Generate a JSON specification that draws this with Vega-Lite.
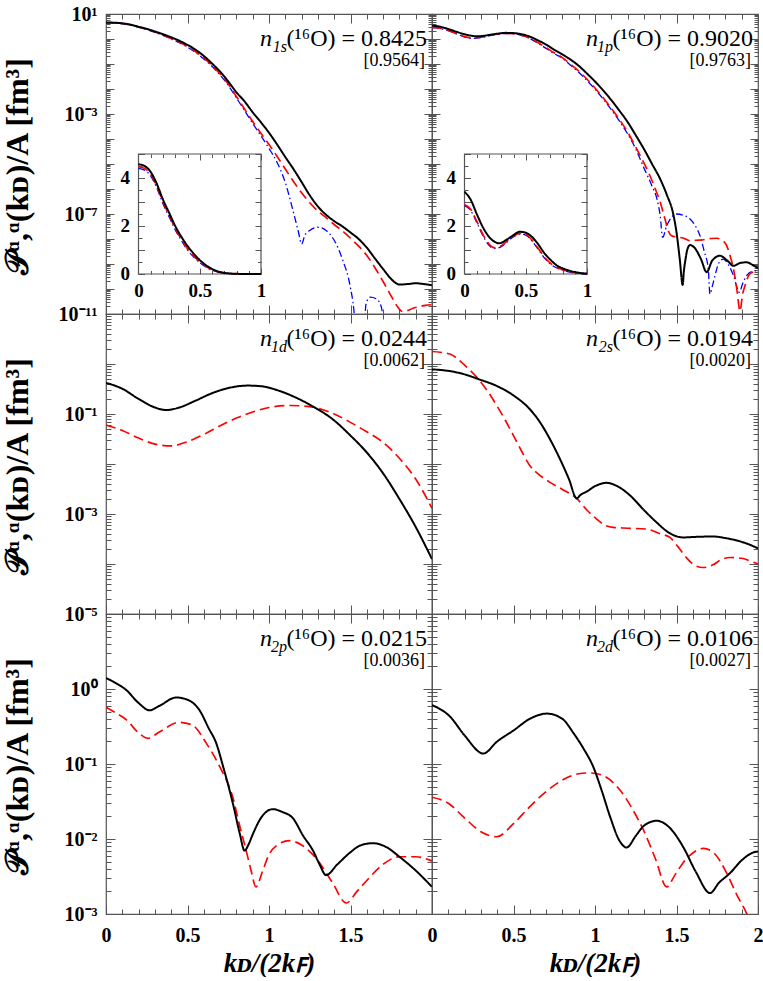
{
"$schema": "https://vega.github.io/schema/vega-lite/v6.json",
"background": "white",
"padding": {"left": 0, "top": 3, "right": 0, "bottom": 0},
"columns": 2,
"spacing": 0,
"bounds": "flush",
"config": {
 "view": {"stroke": "#555555", "strokeWidth": 1.2},
 "axis": {"domain": false, "grid": false, "tickColor": "#555555", "tickWidth": 1, "labelFont": "Liberation Serif", "labelFontWeight": "bold", "labelFontSize": 20, "labelColor": "#000000", "labelOverlap": false, "labelFlush": false, "labelBound": false, "titleFont": "Liberation Serif", "titleFontWeight": "bold", "titleFontSize": 28, "titleColor": "#000000"},
 "text": {"font": "Liberation Serif", "color": "#000000"}
},
"datasets": {
 "t1s": [{"sub": "1s", "main": "(¹⁶O) = 0.8425", "br": "[0.9564]"}],
 "t1p": [{"sub": "1p", "main": "(¹⁶O) = 0.9020", "br": "[0.9763]"}],
 "t1d": [{"sub": "1d", "main": "(¹⁶O) = 0.0244", "br": "[0.0062]"}],
 "t2s": [{"sub": "2s", "main": "(¹⁶O) = 0.0194", "br": "[0.0020]"}],
 "t2p": [{"sub": "2p", "main": "(¹⁶O) = 0.0215", "br": "[0.0036]"}],
 "t2d": [{"sub": "2d", "main": "(¹⁶O) = 0.0106", "br": "[0.0027]"}],
 "p1s": [
  {"k":0,"v":4.4,"c":"b"},{"k":0.05,"v":4.33,"c":"b"},{"k":0.1,"v":4.08,"c":"b"},{"k":0.15,"v":3.58,"c":"b"},{"k":0.2,"v":2.93,"c":"b"},{"k":0.25,"v":2.38,"c":"b"},{"k":0.3,"v":1.84,"c":"b"},{"k":0.35,"v":1.4,"c":"b"},{"k":0.4,"v":1.0,"c":"b"},{"k":0.45,"v":0.71,"c":"b"},{"k":0.5,"v":0.47,"c":"b"},{"k":0.55,"v":0.29,"c":"b"},{"k":0.6,"v":0.16,"c":"b"},{"k":0.65,"v":0.081,"c":"b"},{"k":0.7,"v":0.036,"c":"b"},{"k":0.75,"v":0.014,"c":"b"},{"k":0.8,"v":0.0044,"c":"b"},{"k":0.85,"v":0.00138,"c":"b"},{"k":0.9,"v":0.00042,"c":"b"},{"k":0.95,"v":0.000135,"c":"b"},{"k":1.0,"v":0.000042,"c":"b"},{"k":1.05,"v":0.0000115,"c":"b"},{"k":1.1,"v":0.0000018,"c":"b"},{"k":1.15,"v":1.17e-7,"c":"b"},{"k":1.18,"v":2.0e-8,"c":"b"},{"k":1.2,"v":6.3e-9,"c":"b"},{"k":1.22,"v":1.4e-8,"c":"b"},{"k":1.25,"v":2.2e-8,"c":"b"},{"k":1.3,"v":2.95e-8,"c":"b"},{"k":1.35,"v":2.2e-8,"c":"b"},{"k":1.4,"v":8.9e-9,"c":"b"},{"k":1.45,"v":1.58e-9,"c":"b"},{"k":1.5,"v":1.1e-10,"c":"b"},{"k":1.52,"v":1.6e-11,"c":"b"},{"k":1.545,"v":1e-13,"c":"b"},{"k":1.575,"v":1e-13,"c":"b"},{"k":1.595,"v":2.5e-11,"c":"b"},{"k":1.62,"v":4.7e-11,"c":"b"},{"k":1.66,"v":4.0e-11,"c":"b"},{"k":1.69,"v":1.8e-11,"c":"b"},{"k":1.715,"v":1e-13,"c":"b"},
  {"k":0,"v":4.47,"c":"r"},{"k":0.05,"v":4.4,"c":"r"},{"k":0.1,"v":4.15,"c":"r"},{"k":0.15,"v":3.65,"c":"r"},{"k":0.2,"v":3.0,"c":"r"},{"k":0.25,"v":2.45,"c":"r"},{"k":0.3,"v":1.9,"c":"r"},{"k":0.35,"v":1.45,"c":"r"},{"k":0.4,"v":1.05,"c":"r"},{"k":0.45,"v":0.75,"c":"r"},{"k":0.5,"v":0.5,"c":"r"},{"k":0.55,"v":0.31,"c":"r"},{"k":0.6,"v":0.174,"c":"r"},{"k":0.65,"v":0.089,"c":"r"},{"k":0.7,"v":0.04,"c":"r"},{"k":0.75,"v":0.0158,"c":"r"},{"k":0.8,"v":0.005,"c":"r"},{"k":0.85,"v":0.00158,"c":"r"},{"k":0.9,"v":0.0005,"c":"r"},{"k":0.95,"v":0.00017,"c":"r"},{"k":1.0,"v":0.00006,"c":"r"},{"k":1.05,"v":0.00002,"c":"r"},{"k":1.1,"v":6.3e-6,"c":"r"},{"k":1.15,"v":2.0e-6,"c":"r"},{"k":1.2,"v":7.1e-7,"c":"r"},{"k":1.25,"v":2.8e-7,"c":"r"},{"k":1.3,"v":1.32e-7,"c":"r"},{"k":1.35,"v":7.1e-8,"c":"r"},{"k":1.4,"v":3.8e-8,"c":"r"},{"k":1.45,"v":2.1e-8,"c":"r"},{"k":1.5,"v":1.07e-8,"c":"r"},{"k":1.55,"v":5.2e-9,"c":"r"},{"k":1.6,"v":2.2e-9,"c":"r"},{"k":1.65,"v":7.1e-10,"c":"r"},{"k":1.7,"v":2.0e-10,"c":"r"},{"k":1.73,"v":8.9e-11,"c":"r"},{"k":1.76,"v":4.0e-11,"c":"r"},{"k":1.79,"v":1.9e-11,"c":"r"},{"k":1.82,"v":1.26e-11,"c":"r"},{"k":1.85,"v":1.38e-11,"c":"r"},{"k":1.88,"v":1.66e-11,"c":"r"},{"k":1.92,"v":1.95e-11,"c":"r"},{"k":1.96,"v":2.2e-11,"c":"r"},{"k":2.0,"v":2.35e-11,"c":"r"},
  {"k":0,"v":4.57,"c":"k"},{"k":0.05,"v":4.5,"c":"k"},{"k":0.1,"v":4.25,"c":"k"},{"k":0.15,"v":3.75,"c":"k"},{"k":0.2,"v":3.1,"c":"k"},{"k":0.25,"v":2.55,"c":"k"},{"k":0.3,"v":2.0,"c":"k"},{"k":0.35,"v":1.55,"c":"k"},{"k":0.4,"v":1.17,"c":"k"},{"k":0.45,"v":0.85,"c":"k"},{"k":0.5,"v":0.58,"c":"k"},{"k":0.55,"v":0.37,"c":"k"},{"k":0.6,"v":0.21,"c":"k"},{"k":0.65,"v":0.105,"c":"k"},{"k":0.7,"v":0.05,"c":"k"},{"k":0.75,"v":0.02,"c":"k"},{"k":0.8,"v":0.0074,"c":"k"},{"k":0.85,"v":0.0032,"c":"k"},{"k":0.9,"v":0.00117,"c":"k"},{"k":0.95,"v":0.00047,"c":"k"},{"k":1.0,"v":0.000178,"c":"k"},{"k":1.05,"v":0.00006,"c":"k"},{"k":1.1,"v":0.000019,"c":"k"},{"k":1.15,"v":6.3e-6,"c":"k"},{"k":1.2,"v":1.9e-6,"c":"k"},{"k":1.25,"v":5.6e-7,"c":"k"},{"k":1.3,"v":2.0e-7,"c":"k"},{"k":1.35,"v":9.3e-8,"c":"k"},{"k":1.4,"v":5.2e-8,"c":"k"},{"k":1.45,"v":3.2e-8,"c":"k"},{"k":1.5,"v":1.82e-8,"c":"k"},{"k":1.55,"v":1.0e-8,"c":"k"},{"k":1.6,"v":4.5e-9,"c":"k"},{"k":1.65,"v":1.66e-9,"c":"k"},{"k":1.7,"v":6.3e-10,"c":"k"},{"k":1.75,"v":2.5e-10,"c":"k"},{"k":1.78,"v":1.7e-10,"c":"k"},{"k":1.8,"v":1.5e-10,"c":"k"},{"k":1.85,"v":1.58e-10,"c":"k"},{"k":1.9,"v":1.7e-10,"c":"k"},{"k":1.95,"v":1.58e-10,"c":"k"},{"k":2.0,"v":1.41e-10,"c":"k"}
 ],
 "p1p": [
  {"k":0,"v":2.85,"c":"b"},{"k":0.05,"v":2.65,"c":"b"},{"k":0.1,"v":2.15,"c":"b"},{"k":0.15,"v":1.6,"c":"b"},{"k":0.2,"v":1.2,"c":"b"},{"k":0.24,"v":1.06,"c":"b"},{"k":0.3,"v":1.14,"c":"b"},{"k":0.35,"v":1.34,"c":"b"},{"k":0.4,"v":1.55,"c":"b"},{"k":0.45,"v":1.66,"c":"b"},{"k":0.5,"v":1.62,"c":"b"},{"k":0.55,"v":1.38,"c":"b"},{"k":0.6,"v":1.04,"c":"b"},{"k":0.65,"v":0.68,"c":"b"},{"k":0.7,"v":0.42,"c":"b"},{"k":0.75,"v":0.26,"c":"b"},{"k":0.8,"v":0.17,"c":"b"},{"k":0.85,"v":0.09,"c":"b"},{"k":0.9,"v":0.047,"c":"b"},{"k":0.95,"v":0.022,"c":"b"},{"k":1.0,"v":0.0098,"c":"b"},{"k":1.05,"v":0.004,"c":"b"},{"k":1.1,"v":0.0015,"c":"b"},{"k":1.15,"v":0.00052,"c":"b"},{"k":1.2,"v":0.00016,"c":"b"},{"k":1.25,"v":0.00004,"c":"b"},{"k":1.3,"v":7.0e-6,"c":"b"},{"k":1.35,"v":1.3e-6,"c":"b"},{"k":1.38,"v":4.0e-7,"c":"b"},{"k":1.4,"v":8.5e-8,"c":"b"},{"k":1.415,"v":1.17e-8,"c":"b"},{"k":1.44,"v":3.4e-8,"c":"b"},{"k":1.47,"v":7.5e-8,"c":"b"},{"k":1.5,"v":1.0e-7,"c":"b"},{"k":1.54,"v":9.0e-8,"c":"b"},{"k":1.583,"v":6.3e-8,"c":"b"},{"k":1.615,"v":3.4e-8,"c":"b"},{"k":1.644,"v":1.35e-8,"c":"b"},{"k":1.67,"v":3.2e-9,"c":"b"},{"k":1.695,"v":6.3e-10,"c":"b"},{"k":1.705,"v":6.3e-11,"c":"b"},{"k":1.72,"v":1.3e-10,"c":"b"},{"k":1.736,"v":3.4e-10,"c":"b"},{"k":1.76,"v":1.1e-9,"c":"b"},{"k":1.787,"v":1.58e-9,"c":"b"},{"k":1.82,"v":9.0e-10,"c":"b"},{"k":1.85,"v":3.4e-10,"c":"b"},{"k":1.886,"v":7.4e-11,"c":"b"},{"k":1.905,"v":1.6e-10,"c":"b"},{"k":1.93,"v":3.4e-10,"c":"b"},{"k":1.96,"v":5.0e-10,"c":"b"},{"k":2.0,"v":5.4e-10,"c":"b"},
  {"k":0,"v":2.9,"c":"r"},{"k":0.05,"v":2.7,"c":"r"},{"k":0.1,"v":2.2,"c":"r"},{"k":0.15,"v":1.65,"c":"r"},{"k":0.2,"v":1.25,"c":"r"},{"k":0.24,"v":1.1,"c":"r"},{"k":0.3,"v":1.18,"c":"r"},{"k":0.35,"v":1.38,"c":"r"},{"k":0.4,"v":1.58,"c":"r"},{"k":0.45,"v":1.69,"c":"r"},{"k":0.5,"v":1.65,"c":"r"},{"k":0.55,"v":1.42,"c":"r"},{"k":0.6,"v":1.08,"c":"r"},{"k":0.65,"v":0.72,"c":"r"},{"k":0.7,"v":0.45,"c":"r"},{"k":0.75,"v":0.28,"c":"r"},{"k":0.8,"v":0.18,"c":"r"},{"k":0.85,"v":0.098,"c":"r"},{"k":0.9,"v":0.052,"c":"r"},{"k":0.95,"v":0.025,"c":"r"},{"k":1.0,"v":0.011,"c":"r"},{"k":1.05,"v":0.0045,"c":"r"},{"k":1.1,"v":0.0017,"c":"r"},{"k":1.15,"v":0.0006,"c":"r"},{"k":1.2,"v":0.00019,"c":"r"},{"k":1.256,"v":0.00004,"c":"r"},{"k":1.3,"v":0.000011,"c":"r"},{"k":1.337,"v":3.4e-6,"c":"r"},{"k":1.37,"v":1.0e-6,"c":"r"},{"k":1.4,"v":3.0e-7,"c":"r"},{"k":1.43,"v":6.0e-8,"c":"r"},{"k":1.45,"v":2.1e-8,"c":"r"},{"k":1.47,"v":1.35e-8,"c":"r"},{"k":1.5,"v":1.2e-8,"c":"r"},{"k":1.54,"v":1.1e-8,"c":"r"},{"k":1.583,"v":8.5e-9,"c":"r"},{"k":1.62,"v":8.9e-9,"c":"r"},{"k":1.665,"v":9.3e-9,"c":"r"},{"k":1.71,"v":1.05e-8,"c":"r"},{"k":1.747,"v":1.07e-8,"c":"r"},{"k":1.78,"v":9.0e-9,"c":"r"},{"k":1.808,"v":5.4e-9,"c":"r"},{"k":1.83,"v":2.0e-9,"c":"r"},{"k":1.85,"v":6.3e-10,"c":"r"},{"k":1.87,"v":1.0e-10,"c":"r"},{"k":1.89,"v":1.3e-11,"c":"r"},{"k":1.905,"v":6.0e-11,"c":"r"},{"k":1.92,"v":1.35e-10,"c":"r"},{"k":1.95,"v":4.0e-10,"c":"r"},{"k":2.0,"v":5.4e-10,"c":"r"},
  {"k":0,"v":3.43,"c":"k"},{"k":0.05,"v":3.1,"c":"k"},{"k":0.1,"v":2.5,"c":"k"},{"k":0.15,"v":1.95,"c":"k"},{"k":0.2,"v":1.55,"c":"k"},{"k":0.25,"v":1.33,"c":"k"},{"k":0.28,"v":1.28,"c":"k"},{"k":0.3,"v":1.3,"c":"k"},{"k":0.35,"v":1.45,"c":"k"},{"k":0.4,"v":1.62,"c":"k"},{"k":0.45,"v":1.76,"c":"k"},{"k":0.5,"v":1.72,"c":"k"},{"k":0.55,"v":1.55,"c":"k"},{"k":0.6,"v":1.25,"c":"k"},{"k":0.65,"v":0.88,"c":"k"},{"k":0.7,"v":0.6,"c":"k"},{"k":0.75,"v":0.37,"c":"k"},{"k":0.8,"v":0.24,"c":"k"},{"k":0.85,"v":0.15,"c":"k"},{"k":0.9,"v":0.085,"c":"k"},{"k":0.95,"v":0.042,"c":"k"},{"k":1.0,"v":0.02,"c":"k"},{"k":1.05,"v":0.0088,"c":"k"},{"k":1.1,"v":0.0036,"c":"k"},{"k":1.15,"v":0.00135,"c":"k"},{"k":1.2,"v":0.00048,"c":"k"},{"k":1.25,"v":0.000141,"c":"k"},{"k":1.3,"v":0.00004,"c":"k"},{"k":1.35,"v":0.00001,"c":"k"},{"k":1.4,"v":2.5e-6,"c":"k"},{"k":1.44,"v":6.0e-7,"c":"k"},{"k":1.48,"v":1.0e-7,"c":"k"},{"k":1.5,"v":1.86e-8,"c":"k"},{"k":1.52,"v":1.58e-9,"c":"k"},{"k":1.538,"v":1.45e-10,"c":"k"},{"k":1.545,"v":5.0e-10,"c":"k"},{"k":1.555,"v":1.5e-9,"c":"k"},{"k":1.565,"v":3.5e-9,"c":"k"},{"k":1.583,"v":5.75e-9,"c":"k"},{"k":1.61,"v":4.5e-9,"c":"k"},{"k":1.65,"v":1.58e-9,"c":"k"},{"k":1.685,"v":4.7e-10,"c":"k"},{"k":1.72,"v":1.4e-9,"c":"k"},{"k":1.767,"v":2.14e-9,"c":"k"},{"k":1.81,"v":1.4e-9,"c":"k"},{"k":1.85,"v":8.5e-10,"c":"k"},{"k":1.89,"v":1.1e-9,"c":"k"},{"k":1.93,"v":1.17e-9,"c":"k"},{"k":1.97,"v":8.9e-10,"c":"k"},{"k":2.0,"v":6.8e-10,"c":"k"}
 ],
 "p1d": [
  {"k":0,"v":0.06,"c":"r"},{"k":0.1,"v":0.047,"c":"r"},{"k":0.2,"v":0.033,"c":"r"},{"k":0.3,"v":0.025,"c":"r"},{"k":0.4,"v":0.023,"c":"r"},{"k":0.5,"v":0.028,"c":"r"},{"k":0.6,"v":0.039,"c":"r"},{"k":0.7,"v":0.058,"c":"r"},{"k":0.8,"v":0.083,"c":"r"},{"k":0.9,"v":0.11,"c":"r"},{"k":1.0,"v":0.135,"c":"r"},{"k":1.13,"v":0.148,"c":"r"},{"k":1.2,"v":0.145,"c":"r"},{"k":1.3,"v":0.13,"c":"r"},{"k":1.4,"v":0.1,"c":"r"},{"k":1.5,"v":0.068,"c":"r"},{"k":1.6,"v":0.044,"c":"r"},{"k":1.7,"v":0.027,"c":"r"},{"k":1.8,"v":0.013,"c":"r"},{"k":1.9,"v":0.005,"c":"r"},{"k":2.0,"v":0.0013,"c":"r"},
  {"k":0,"v":0.42,"c":"k"},{"k":0.1,"v":0.32,"c":"k"},{"k":0.2,"v":0.2,"c":"k"},{"k":0.3,"v":0.135,"c":"k"},{"k":0.37,"v":0.12,"c":"k"},{"k":0.45,"v":0.135,"c":"k"},{"k":0.55,"v":0.185,"c":"k"},{"k":0.65,"v":0.26,"c":"k"},{"k":0.75,"v":0.33,"c":"k"},{"k":0.87,"v":0.37,"c":"k"},{"k":0.95,"v":0.36,"c":"k"},{"k":1.05,"v":0.3,"c":"k"},{"k":1.15,"v":0.224,"c":"k"},{"k":1.27,"v":0.141,"c":"k"},{"k":1.39,"v":0.079,"c":"k"},{"k":1.5,"v":0.037,"c":"k"},{"k":1.6,"v":0.017,"c":"k"},{"k":1.7,"v":0.0065,"c":"k"},{"k":1.8,"v":0.002,"c":"k"},{"k":1.9,"v":0.00055,"c":"k"},{"k":2.0,"v":0.000125,"c":"k"}
 ],
 "p2s": [
  {"k":0,"v":1.78,"c":"r"},{"k":0.05,"v":1.72,"c":"r"},{"k":0.11,"v":1.58,"c":"r"},{"k":0.2,"v":0.95,"c":"r"},{"k":0.284,"v":0.5,"c":"r"},{"k":0.35,"v":0.26,"c":"r"},{"k":0.397,"v":0.148,"c":"r"},{"k":0.45,"v":0.075,"c":"r"},{"k":0.5,"v":0.037,"c":"r"},{"k":0.55,"v":0.018,"c":"r"},{"k":0.6,"v":0.0093,"c":"r"},{"k":0.66,"v":0.006,"c":"r"},{"k":0.724,"v":0.0043,"c":"r"},{"k":0.8,"v":0.0031,"c":"r"},{"k":0.888,"v":0.00205,"c":"r"},{"k":0.95,"v":0.0012,"c":"r"},{"k":1.01,"v":0.00079,"c":"r"},{"k":1.06,"v":0.0006,"c":"r"},{"k":1.112,"v":0.00054,"c":"r"},{"k":1.2,"v":0.00052,"c":"r"},{"k":1.317,"v":0.0005,"c":"r"},{"k":1.4,"v":0.0004,"c":"r"},{"k":1.46,"v":0.00034,"c":"r"},{"k":1.51,"v":0.00022,"c":"r"},{"k":1.56,"v":0.000135,"c":"r"},{"k":1.61,"v":0.000095,"c":"r"},{"k":1.664,"v":0.000085,"c":"r"},{"k":1.72,"v":0.000095,"c":"r"},{"k":1.78,"v":0.000125,"c":"r"},{"k":1.828,"v":0.000135,"c":"r"},{"k":1.9,"v":0.00013,"c":"r"},{"k":1.95,"v":0.000115,"c":"r"},{"k":2.0,"v":0.0001,"c":"r"},
  {"k":0,"v":0.78,"c":"k"},{"k":0.1,"v":0.73,"c":"k"},{"k":0.2,"v":0.62,"c":"k"},{"k":0.284,"v":0.5,"c":"k"},{"k":0.4,"v":0.36,"c":"k"},{"k":0.5,"v":0.235,"c":"k"},{"k":0.6,"v":0.125,"c":"k"},{"k":0.663,"v":0.068,"c":"k"},{"k":0.72,"v":0.033,"c":"k"},{"k":0.785,"v":0.0126,"c":"k"},{"k":0.84,"v":0.005,"c":"k"},{"k":0.888,"v":0.00205,"c":"k"},{"k":0.91,"v":0.0024,"c":"k"},{"k":0.949,"v":0.0028,"c":"k"},{"k":1.0,"v":0.0036,"c":"k"},{"k":1.072,"v":0.0042,"c":"k"},{"k":1.15,"v":0.0034,"c":"k"},{"k":1.215,"v":0.00235,"c":"k"},{"k":1.3,"v":0.0012,"c":"k"},{"k":1.378,"v":0.00068,"c":"k"},{"k":1.45,"v":0.00043,"c":"k"},{"k":1.54,"v":0.00034,"c":"k"},{"k":1.63,"v":0.00035,"c":"k"},{"k":1.726,"v":0.000355,"c":"k"},{"k":1.8,"v":0.00033,"c":"k"},{"k":1.87,"v":0.000295,"c":"k"},{"k":1.94,"v":0.00025,"c":"k"},{"k":2.0,"v":0.000205,"c":"k"}
 ],
 "p2p": [
  {"k":0,"v":0.57,"c":"r"},{"k":0.06,"v":0.48,"c":"r"},{"k":0.124,"v":0.39,"c":"r"},{"k":0.2,"v":0.26,"c":"r"},{"k":0.257,"v":0.22,"c":"r"},{"k":0.33,"v":0.27,"c":"r"},{"k":0.45,"v":0.36,"c":"r"},{"k":0.53,"v":0.33,"c":"r"},{"k":0.615,"v":0.19,"c":"r"},{"k":0.7,"v":0.09,"c":"r"},{"k":0.778,"v":0.036,"c":"r"},{"k":0.82,"v":0.015,"c":"r"},{"k":0.86,"v":0.007,"c":"r"},{"k":0.89,"v":0.0038,"c":"r"},{"k":0.92,"v":0.0023,"c":"r"},{"k":0.96,"v":0.0037,"c":"r"},{"k":1.0,"v":0.0062,"c":"r"},{"k":1.044,"v":0.0081,"c":"r"},{"k":1.126,"v":0.0095,"c":"r"},{"k":1.2,"v":0.0083,"c":"r"},{"k":1.29,"v":0.0055,"c":"r"},{"k":1.39,"v":0.0026,"c":"r"},{"k":1.474,"v":0.0014,"c":"r"},{"k":1.54,"v":0.002,"c":"r"},{"k":1.6,"v":0.0028,"c":"r"},{"k":1.7,"v":0.0046,"c":"r"},{"k":1.8,"v":0.0058,"c":"r"},{"k":1.9,"v":0.0058,"c":"r"},{"k":2.0,"v":0.0051,"c":"r"},
  {"k":0,"v":1.4,"c":"k"},{"k":0.06,"v":1.2,"c":"k"},{"k":0.124,"v":0.97,"c":"k"},{"k":0.2,"v":0.65,"c":"k"},{"k":0.267,"v":0.52,"c":"k"},{"k":0.33,"v":0.6,"c":"k"},{"k":0.43,"v":0.77,"c":"k"},{"k":0.5,"v":0.72,"c":"k"},{"k":0.574,"v":0.52,"c":"k"},{"k":0.63,"v":0.3,"c":"k"},{"k":0.676,"v":0.19,"c":"k"},{"k":0.72,"v":0.09,"c":"k"},{"k":0.778,"v":0.03,"c":"k"},{"k":0.82,"v":0.012,"c":"k"},{"k":0.85,"v":0.007,"c":"k"},{"k":0.875,"v":0.0085,"c":"k"},{"k":0.9,"v":0.0115,"c":"k"},{"k":0.95,"v":0.019,"c":"k"},{"k":1.023,"v":0.025,"c":"k"},{"k":1.08,"v":0.023,"c":"k"},{"k":1.146,"v":0.019,"c":"k"},{"k":1.21,"v":0.011,"c":"k"},{"k":1.27,"v":0.007,"c":"k"},{"k":1.31,"v":0.0046,"c":"k"},{"k":1.35,"v":0.0033,"c":"k"},{"k":1.42,"v":0.0046,"c":"k"},{"k":1.494,"v":0.0065,"c":"k"},{"k":1.56,"v":0.0082,"c":"k"},{"k":1.637,"v":0.0088,"c":"k"},{"k":1.72,"v":0.0078,"c":"k"},{"k":1.8,"v":0.0058,"c":"k"},{"k":1.9,"v":0.0038,"c":"k"},{"k":2.0,"v":0.0023,"c":"k"}
 ],
 "p2d": [
  {"k":0,"v":0.036,"c":"r"},{"k":0.1,"v":0.03,"c":"r"},{"k":0.19,"v":0.02,"c":"r"},{"k":0.3,"v":0.0125,"c":"r"},{"k":0.397,"v":0.0107,"c":"r"},{"k":0.5,"v":0.016,"c":"r"},{"k":0.6,"v":0.027,"c":"r"},{"k":0.7,"v":0.043,"c":"r"},{"k":0.806,"v":0.062,"c":"r"},{"k":0.9,"v":0.074,"c":"r"},{"k":0.969,"v":0.076,"c":"r"},{"k":1.05,"v":0.07,"c":"r"},{"k":1.153,"v":0.045,"c":"r"},{"k":1.23,"v":0.025,"c":"r"},{"k":1.297,"v":0.0132,"c":"r"},{"k":1.37,"v":0.0055,"c":"r"},{"k":1.44,"v":0.0023,"c":"r"},{"k":1.49,"v":0.0033,"c":"r"},{"k":1.54,"v":0.0048,"c":"r"},{"k":1.6,"v":0.0065,"c":"r"},{"k":1.665,"v":0.0075,"c":"r"},{"k":1.73,"v":0.0065,"c":"r"},{"k":1.808,"v":0.0035,"c":"r"},{"k":1.87,"v":0.0018,"c":"r"},{"k":1.93,"v":0.00102,"c":"r"},{"k":1.96,"v":0.0007,"c":"r"},{"k":2.0,"v":0.0004,"c":"r"},
  {"k":0,"v":0.61,"c":"k"},{"k":0.11,"v":0.43,"c":"k"},{"k":0.2,"v":0.24,"c":"k"},{"k":0.315,"v":0.138,"c":"k"},{"k":0.4,"v":0.2,"c":"k"},{"k":0.5,"v":0.28,"c":"k"},{"k":0.6,"v":0.4,"c":"k"},{"k":0.704,"v":0.47,"c":"k"},{"k":0.8,"v":0.4,"c":"k"},{"k":0.867,"v":0.26,"c":"k"},{"k":0.93,"v":0.16,"c":"k"},{"k":0.99,"v":0.091,"c":"k"},{"k":1.04,"v":0.045,"c":"k"},{"k":1.092,"v":0.02,"c":"k"},{"k":1.15,"v":0.0095,"c":"k"},{"k":1.194,"v":0.0077,"c":"k"},{"k":1.25,"v":0.011,"c":"k"},{"k":1.3,"v":0.015,"c":"k"},{"k":1.378,"v":0.0175,"c":"k"},{"k":1.46,"v":0.014,"c":"k"},{"k":1.54,"v":0.0079,"c":"k"},{"k":1.62,"v":0.0036,"c":"k"},{"k":1.706,"v":0.0019,"c":"k"},{"k":1.76,"v":0.0026,"c":"k"},{"k":1.828,"v":0.0035,"c":"k"},{"k":1.9,"v":0.0052,"c":"k"},{"k":1.97,"v":0.0066,"c":"k"},{"k":2.0,"v":0.0068,"c":"k"}
 ]
},
"concat": [
 {
  "width": 326, "height": 300,
  "resolve": {"scale": {"x": "independent", "y": "independent"}, "axis": {"x": "independent", "y": "independent"}},
  "layer": [
   {"data": {"name": "p1s"}, "mark": {"type": "line", "clip": true, "interpolate": "monotone"},
    "encoding": {
     "x": {"field": "k", "type": "quantitative", "scale": {"domain": [0, 2], "nice": false, "zero": false}, "axis": {"orient": "bottom", "values": [0,0.1,0.2,0.3,0.4,0.5,0.6,0.7,0.8,0.9,1,1.1,1.2,1.3,1.4,1.5,1.6,1.7,1.8,1.9,2], "tickSize": {"condition": {"test": "abs(datum.value*2-round(datum.value*2))<0.01", "value": -9}, "value": -5}, "labels": false, "title": null}},
     "y": {"field": "v", "type": "quantitative", "scale": {"type": "log", "domain": [1e-11, 10], "nice": false}, "axis": {"orient": "left", "tickCount": 20, "tickSize": {"condition": {"test": "abs(log(datum.value)/LN10-round(log(datum.value)/LN10))<0.01", "value": -8}, "value": -4}, "labelPadding": 17, "labelExpr": "abs(log(datum.value)/LN10-round(log(datum.value)/LN10))>0.01 ? '' : round(log(datum.value)/LN10)==1 ? '10¹' : round(log(datum.value)/LN10)==-3 ? '10⁻³' : round(log(datum.value)/LN10)==-7 ? '10⁻⁷' : round(log(datum.value)/LN10)==-11 ? '10⁻¹¹' : ''", "title": "𝒫ᵅ,ᵅ(kᴅ)/A [fm³]", "titleFontSize": 32, "titleX": -72, "titleY": 152}},
     "color": {"field": "c", "type": "nominal", "scale": {"domain": ["b","r","k"], "range": ["#0000ff","#ff0000","#000000"]}, "legend": null},
     "strokeDash": {"field": "c", "type": "nominal", "scale": {"domain": ["b","r","k"], "range": [[7,3,1.5,3],[10,5],[1,0]]}, "legend": null},
     "strokeWidth": {"field": "c", "type": "ordinal", "scale": {"domain": ["b","r","k"], "range": [1.3,2,2.6]}, "legend": null}
    }},
   {"data": {"name": "p1s"}, "mark": {"type": "point", "opacity": 0},
    "encoding": {
     "x": {"field": "k", "type": "quantitative", "scale": {"domain": [0, 2], "nice": false, "zero": false}, "axis": {"orient": "top", "values": [0,0.1,0.2,0.3,0.4,0.5,0.6,0.7,0.8,0.9,1,1.1,1.2,1.3,1.4,1.5,1.6,1.7,1.8,1.9,2], "tickSize": {"condition": {"test": "abs(datum.value*2-round(datum.value*2))<0.01", "value": -9}, "value": -5}, "labels": false, "title": null}},
     "y": {"field": "v", "type": "quantitative", "scale": {"type": "log", "domain": [1e-11, 10], "nice": false}, "axis": {"orient": "right", "tickCount": 20, "tickSize": {"condition": {"test": "abs(log(datum.value)/LN10-round(log(datum.value)/LN10))<0.01", "value": -8}, "value": -4}, "labels": false, "title": null}}
    }},
   {"data": {"name": "t1s"}, "mark": {"type": "rect", "fillOpacity": 0, "stroke": "#555555", "strokeWidth": 1.2},
    "encoding": {
     "x": {"datum": 0, "type": "quantitative", "scale": {"domain": [-0.2653, 2.3959], "nice": false, "zero": false}, "axis": null},
     "x2": {"datum": 1},
     "y": {"datum": 0, "type": "quantitative", "scale": {"domain": [-1.6667, 10.8333], "nice": false, "zero": false}, "axis": null},
     "y2": {"datum": 5}
    }},
   {"data": {"name": "p1s"}, "transform": [{"filter": "datum.k <= 1.001"}], "mark": {"type": "line", "interpolate": "monotone"},
    "encoding": {
     "x": {"field": "k", "type": "quantitative", "scale": {"domain": [-0.2653, 2.3959], "nice": false, "zero": false}, "axis": {"orient": "bottom", "offset": -40, "values": [0,0.1,0.2,0.3,0.4,0.5,0.6,0.7,0.8,0.9,1], "tickSize": {"condition": {"test": "abs(datum.value*2-round(datum.value*2))<0.01", "value": -6}, "value": -3.5}, "labelExpr": "abs(datum.value*2-round(datum.value*2))<0.01 ? format(datum.value,'~g') : ''", "labelFontSize": 19, "labelPadding": 13, "title": null}},
     "y": {"field": "v", "type": "quantitative", "scale": {"domain": [-1.6667, 10.8333], "nice": false, "zero": false}, "axis": {"orient": "left", "offset": -32.5, "values": [0,0.5,1,1.5,2,2.5,3,3.5,4,4.5,5], "tickSize": {"condition": {"test": "abs(datum.value-round(datum.value))<0.01", "value": -6}, "value": -3.5}, "labelExpr": "(datum.value==0||datum.value==2||datum.value==4) ? format(datum.value,'~g') : ''", "labelFontSize": 19, "labelPadding": 15, "title": null}},
     "color": {"field": "c", "type": "nominal", "scale": {"domain": ["b","r","k"], "range": ["#0000ff","#ff0000","#000000"]}, "legend": null},
     "strokeDash": {"field": "c", "type": "nominal", "scale": {"domain": ["b","r","k"], "range": [[7,3,1.5,3],[10,5],[1,0]]}, "legend": null},
     "strokeWidth": {"field": "c", "type": "ordinal", "scale": {"domain": ["b","r","k"], "range": [1.3,2,2.6]}, "legend": null}
    }},
   {"data": {"name": "p1s"}, "transform": [{"filter": "datum.k <= 1.001"}], "mark": {"type": "point", "opacity": 0},
    "encoding": {
     "x": {"field": "k", "type": "quantitative", "scale": {"domain": [-0.2653, 2.3959], "nice": false, "zero": false}, "axis": {"orient": "top", "offset": -140, "values": [0,0.1,0.2,0.3,0.4,0.5,0.6,0.7,0.8,0.9,1], "tickSize": {"condition": {"test": "abs(datum.value*2-round(datum.value*2))<0.01", "value": -6}, "value": -3.5}, "labels": false, "title": null}},
     "y": {"field": "v", "type": "quantitative", "scale": {"domain": [-1.6667, 10.8333], "nice": false, "zero": false}, "axis": {"orient": "right", "offset": -171, "values": [0,0.5,1,1.5,2,2.5,3,3.5,4,4.5,5], "tickSize": {"condition": {"test": "abs(datum.value-round(datum.value))<0.01", "value": -6}, "value": -3.5}, "labels": false, "title": null}}
    }},
   {"data": {"name": "t1s"}, "mark": {"type": "text", "align": "right", "baseline": "alphabetic", "dx": -160, "dy": 32, "fontSize": 24, "fontStyle": "italic"},
    "encoding": {"x": {"datum": 2, "type": "quantitative", "scale": {"domain": [0, 2]}, "axis": null}, "y": {"datum": 10, "type": "quantitative", "scale": {"type": "log", "domain": [1e-11, 10]}, "axis": null}, "text": {"value": "n"}}},
   {"data": {"name": "t1s"}, "mark": {"type": "text", "align": "right", "baseline": "alphabetic", "dx": -145, "dy": 38, "fontSize": 16, "fontStyle": "italic"},
    "encoding": {"x": {"datum": 2, "type": "quantitative", "scale": {"domain": [0, 2]}, "axis": null}, "y": {"datum": 10, "type": "quantitative", "scale": {"type": "log", "domain": [1e-11, 10]}, "axis": null}, "text": {"field": "sub"}}},
   {"data": {"name": "t1s"}, "mark": {"type": "text", "align": "right", "baseline": "alphabetic", "dx": -5, "dy": 32, "fontSize": 24},
    "encoding": {"x": {"datum": 2, "type": "quantitative", "scale": {"domain": [0, 2]}, "axis": null}, "y": {"datum": 10, "type": "quantitative", "scale": {"type": "log", "domain": [1e-11, 10]}, "axis": null}, "text": {"field": "main"}}},
   {"data": {"name": "t1s"}, "mark": {"type": "text", "align": "right", "baseline": "alphabetic", "dx": -7, "dy": 52, "fontSize": 18},
    "encoding": {"x": {"datum": 2, "type": "quantitative", "scale": {"domain": [0, 2]}, "axis": null}, "y": {"datum": 10, "type": "quantitative", "scale": {"type": "log", "domain": [1e-11, 10]}, "axis": null}, "text": {"field": "br"}}}
  ]
 },
 {
  "width": 326, "height": 300,
  "resolve": {"scale": {"x": "independent", "y": "independent"}, "axis": {"x": "independent", "y": "independent"}},
  "layer": [
   {"data": {"name": "p1p"}, "mark": {"type": "line", "clip": true, "interpolate": "monotone"},
    "encoding": {
     "x": {"field": "k", "type": "quantitative", "scale": {"domain": [0, 2], "nice": false, "zero": false}, "axis": {"orient": "bottom", "values": [0,0.1,0.2,0.3,0.4,0.5,0.6,0.7,0.8,0.9,1,1.1,1.2,1.3,1.4,1.5,1.6,1.7,1.8,1.9,2], "tickSize": {"condition": {"test": "abs(datum.value*2-round(datum.value*2))<0.01", "value": -9}, "value": -5}, "labels": false, "title": null}},
     "y": {"field": "v", "type": "quantitative", "scale": {"type": "log", "domain": [1e-11, 10], "nice": false}, "axis": {"orient": "left", "tickCount": 20, "tickSize": {"condition": {"test": "abs(log(datum.value)/LN10-round(log(datum.value)/LN10))<0.01", "value": -8}, "value": -4}, "labels": false, "title": null}},
     "color": {"field": "c", "type": "nominal", "scale": {"domain": ["b","r","k"], "range": ["#0000ff","#ff0000","#000000"]}, "legend": null},
     "strokeDash": {"field": "c", "type": "nominal", "scale": {"domain": ["b","r","k"], "range": [[7,3,1.5,3],[10,5],[1,0]]}, "legend": null},
     "strokeWidth": {"field": "c", "type": "ordinal", "scale": {"domain": ["b","r","k"], "range": [1.3,2,2.6]}, "legend": null}
    }},
   {"data": {"name": "p1p"}, "mark": {"type": "point", "opacity": 0},
    "encoding": {
     "x": {"field": "k", "type": "quantitative", "scale": {"domain": [0, 2], "nice": false, "zero": false}, "axis": {"orient": "top", "values": [0,0.1,0.2,0.3,0.4,0.5,0.6,0.7,0.8,0.9,1,1.1,1.2,1.3,1.4,1.5,1.6,1.7,1.8,1.9,2], "tickSize": {"condition": {"test": "abs(datum.value*2-round(datum.value*2))<0.01", "value": -9}, "value": -5}, "labels": false, "title": null}},
     "y": {"field": "v", "type": "quantitative", "scale": {"type": "log", "domain": [1e-11, 10], "nice": false}, "axis": {"orient": "right", "tickCount": 20, "tickSize": {"condition": {"test": "abs(log(datum.value)/LN10-round(log(datum.value)/LN10))<0.01", "value": -8}, "value": -4}, "labels": false, "title": null}}
    }},
   {"data": {"name": "t1p"}, "mark": {"type": "rect", "fillOpacity": 0, "stroke": "#555555", "strokeWidth": 1.2},
    "encoding": {
     "x": {"datum": 0, "type": "quantitative", "scale": {"domain": [-0.2653, 2.3959], "nice": false, "zero": false}, "axis": null},
     "x2": {"datum": 1},
     "y": {"datum": 0, "type": "quantitative", "scale": {"domain": [-1.6667, 10.8333], "nice": false, "zero": false}, "axis": null},
     "y2": {"datum": 5}
    }},
   {"data": {"name": "p1p"}, "transform": [{"filter": "datum.k <= 1.001"}], "mark": {"type": "line", "interpolate": "monotone"},
    "encoding": {
     "x": {"field": "k", "type": "quantitative", "scale": {"domain": [-0.2653, 2.3959], "nice": false, "zero": false}, "axis": {"orient": "bottom", "offset": -40, "values": [0,0.1,0.2,0.3,0.4,0.5,0.6,0.7,0.8,0.9,1], "tickSize": {"condition": {"test": "abs(datum.value*2-round(datum.value*2))<0.01", "value": -6}, "value": -3.5}, "labelExpr": "abs(datum.value*2-round(datum.value*2))<0.01 ? format(datum.value,'~g') : ''", "labelFontSize": 19, "labelPadding": 13, "title": null}},
     "y": {"field": "v", "type": "quantitative", "scale": {"domain": [-1.6667, 10.8333], "nice": false, "zero": false}, "axis": {"orient": "left", "offset": -32.5, "values": [0,0.5,1,1.5,2,2.5,3,3.5,4,4.5,5], "tickSize": {"condition": {"test": "abs(datum.value-round(datum.value))<0.01", "value": -6}, "value": -3.5}, "labelExpr": "(datum.value==0||datum.value==2||datum.value==4) ? format(datum.value,'~g') : ''", "labelFontSize": 19, "labelPadding": 15, "title": null}},
     "color": {"field": "c", "type": "nominal", "scale": {"domain": ["b","r","k"], "range": ["#0000ff","#ff0000","#000000"]}, "legend": null},
     "strokeDash": {"field": "c", "type": "nominal", "scale": {"domain": ["b","r","k"], "range": [[7,3,1.5,3],[10,5],[1,0]]}, "legend": null},
     "strokeWidth": {"field": "c", "type": "ordinal", "scale": {"domain": ["b","r","k"], "range": [1.3,2,2.6]}, "legend": null}
    }},
   {"data": {"name": "p1p"}, "transform": [{"filter": "datum.k <= 1.001"}], "mark": {"type": "point", "opacity": 0},
    "encoding": {
     "x": {"field": "k", "type": "quantitative", "scale": {"domain": [-0.2653, 2.3959], "nice": false, "zero": false}, "axis": {"orient": "top", "offset": -140, "values": [0,0.1,0.2,0.3,0.4,0.5,0.6,0.7,0.8,0.9,1], "tickSize": {"condition": {"test": "abs(datum.value*2-round(datum.value*2))<0.01", "value": -6}, "value": -3.5}, "labels": false, "title": null}},
     "y": {"field": "v", "type": "quantitative", "scale": {"domain": [-1.6667, 10.8333], "nice": false, "zero": false}, "axis": {"orient": "right", "offset": -171, "values": [0,0.5,1,1.5,2,2.5,3,3.5,4,4.5,5], "tickSize": {"condition": {"test": "abs(datum.value-round(datum.value))<0.01", "value": -6}, "value": -3.5}, "labels": false, "title": null}}
    }},
   {"data": {"name": "t1p"}, "mark": {"type": "text", "align": "right", "baseline": "alphabetic", "dx": -160, "dy": 32, "fontSize": 24, "fontStyle": "italic"},
    "encoding": {"x": {"datum": 2, "type": "quantitative", "scale": {"domain": [0, 2]}, "axis": null}, "y": {"datum": 10, "type": "quantitative", "scale": {"type": "log", "domain": [1e-11, 10]}, "axis": null}, "text": {"value": "n"}}},
   {"data": {"name": "t1p"}, "mark": {"type": "text", "align": "right", "baseline": "alphabetic", "dx": -145, "dy": 38, "fontSize": 16, "fontStyle": "italic"},
    "encoding": {"x": {"datum": 2, "type": "quantitative", "scale": {"domain": [0, 2]}, "axis": null}, "y": {"datum": 10, "type": "quantitative", "scale": {"type": "log", "domain": [1e-11, 10]}, "axis": null}, "text": {"field": "sub"}}},
   {"data": {"name": "t1p"}, "mark": {"type": "text", "align": "right", "baseline": "alphabetic", "dx": -5, "dy": 32, "fontSize": 24},
    "encoding": {"x": {"datum": 2, "type": "quantitative", "scale": {"domain": [0, 2]}, "axis": null}, "y": {"datum": 10, "type": "quantitative", "scale": {"type": "log", "domain": [1e-11, 10]}, "axis": null}, "text": {"field": "main"}}},
   {"data": {"name": "t1p"}, "mark": {"type": "text", "align": "right", "baseline": "alphabetic", "dx": -7, "dy": 52, "fontSize": 18},
    "encoding": {"x": {"datum": 2, "type": "quantitative", "scale": {"domain": [0, 2]}, "axis": null}, "y": {"datum": 10, "type": "quantitative", "scale": {"type": "log", "domain": [1e-11, 10]}, "axis": null}, "text": {"field": "br"}}}
  ]
 },
 {
  "width": 326, "height": 300,
  "resolve": {"scale": {"x": "independent", "y": "independent"}, "axis": {"x": "independent", "y": "independent"}},
  "layer": [
   {"data": {"name": "p1d"}, "mark": {"type": "line", "clip": true, "interpolate": "monotone"},
    "encoding": {
     "x": {"field": "k", "type": "quantitative", "scale": {"domain": [0, 2], "nice": false, "zero": false}, "axis": {"orient": "bottom", "values": [0,0.1,0.2,0.3,0.4,0.5,0.6,0.7,0.8,0.9,1,1.1,1.2,1.3,1.4,1.5,1.6,1.7,1.8,1.9,2], "tickSize": {"condition": {"test": "abs(datum.value*2-round(datum.value*2))<0.01", "value": -9}, "value": -5}, "labels": false, "title": null}},
     "y": {"field": "v", "type": "quantitative", "scale": {"type": "log", "domain": [1e-5, 10], "nice": false}, "axis": {"orient": "left", "tickCount": 20, "tickSize": {"condition": {"test": "abs(log(datum.value)/LN10-round(log(datum.value)/LN10))<0.01", "value": -9}, "value": -5}, "labelPadding": 18, "labelExpr": "abs(log(datum.value)/LN10-round(log(datum.value)/LN10))>0.01 ? '' : round(log(datum.value)/LN10)==-1 ? '10⁻¹' : round(log(datum.value)/LN10)==-3 ? '10⁻³' : round(log(datum.value)/LN10)==-5 ? '10⁻⁵' : ''", "title": "𝒫ᵅ,ᵅ(kᴅ)/A [fm³]", "titleFontSize": 32, "titleX": -72, "titleY": 152}},
     "color": {"field": "c", "type": "nominal", "scale": {"domain": ["b","r","k"], "range": ["#0000ff","#ff0000","#000000"]}, "legend": null},
     "strokeDash": {"field": "c", "type": "nominal", "scale": {"domain": ["b","r","k"], "range": [[7,3,1.5,3],[11,6],[1,0]]}, "legend": null},
     "strokeWidth": {"field": "c", "type": "ordinal", "scale": {"domain": ["b","r","k"], "range": [1.3,2,2.6]}, "legend": null}
    }},
   {"data": {"name": "p1d"}, "mark": {"type": "point", "opacity": 0},
    "encoding": {
     "x": {"field": "k", "type": "quantitative", "scale": {"domain": [0, 2], "nice": false, "zero": false}, "axis": {"orient": "top", "values": [0,0.1,0.2,0.3,0.4,0.5,0.6,0.7,0.8,0.9,1,1.1,1.2,1.3,1.4,1.5,1.6,1.7,1.8,1.9,2], "tickSize": {"condition": {"test": "abs(datum.value*2-round(datum.value*2))<0.01", "value": -9}, "value": -5}, "labels": false, "title": null}},
     "y": {"field": "v", "type": "quantitative", "scale": {"type": "log", "domain": [1e-5, 10], "nice": false}, "axis": {"orient": "right", "tickCount": 20, "tickSize": {"condition": {"test": "abs(log(datum.value)/LN10-round(log(datum.value)/LN10))<0.01", "value": -9}, "value": -5}, "labels": false, "title": null}}
    }},
   {"data": {"name": "t1d"}, "mark": {"type": "text", "align": "right", "baseline": "alphabetic", "dx": -160, "dy": 32, "fontSize": 24, "fontStyle": "italic"},
    "encoding": {"x": {"datum": 2, "type": "quantitative", "scale": {"domain": [0, 2]}, "axis": null}, "y": {"datum": 10, "type": "quantitative", "scale": {"type": "log", "domain": [1e-5, 10]}, "axis": null}, "text": {"value": "n"}}},
   {"data": {"name": "t1d"}, "mark": {"type": "text", "align": "right", "baseline": "alphabetic", "dx": -145, "dy": 38, "fontSize": 16, "fontStyle": "italic"},
    "encoding": {"x": {"datum": 2, "type": "quantitative", "scale": {"domain": [0, 2]}, "axis": null}, "y": {"datum": 10, "type": "quantitative", "scale": {"type": "log", "domain": [1e-5, 10]}, "axis": null}, "text": {"field": "sub"}}},
   {"data": {"name": "t1d"}, "mark": {"type": "text", "align": "right", "baseline": "alphabetic", "dx": -5, "dy": 32, "fontSize": 24},
    "encoding": {"x": {"datum": 2, "type": "quantitative", "scale": {"domain": [0, 2]}, "axis": null}, "y": {"datum": 10, "type": "quantitative", "scale": {"type": "log", "domain": [1e-5, 10]}, "axis": null}, "text": {"field": "main"}}},
   {"data": {"name": "t1d"}, "mark": {"type": "text", "align": "right", "baseline": "alphabetic", "dx": -7, "dy": 52, "fontSize": 18},
    "encoding": {"x": {"datum": 2, "type": "quantitative", "scale": {"domain": [0, 2]}, "axis": null}, "y": {"datum": 10, "type": "quantitative", "scale": {"type": "log", "domain": [1e-5, 10]}, "axis": null}, "text": {"field": "br"}}}
  ]
 },
 {
  "width": 326, "height": 300,
  "resolve": {"scale": {"x": "independent", "y": "independent"}, "axis": {"x": "independent", "y": "independent"}},
  "layer": [
   {"data": {"name": "p2s"}, "mark": {"type": "line", "clip": true, "interpolate": "monotone"},
    "encoding": {
     "x": {"field": "k", "type": "quantitative", "scale": {"domain": [0, 2], "nice": false, "zero": false}, "axis": {"orient": "bottom", "values": [0,0.1,0.2,0.3,0.4,0.5,0.6,0.7,0.8,0.9,1,1.1,1.2,1.3,1.4,1.5,1.6,1.7,1.8,1.9,2], "tickSize": {"condition": {"test": "abs(datum.value*2-round(datum.value*2))<0.01", "value": -9}, "value": -5}, "labels": false, "title": null}},
     "y": {"field": "v", "type": "quantitative", "scale": {"type": "log", "domain": [1e-5, 10], "nice": false}, "axis": {"orient": "left", "tickCount": 20, "tickSize": {"condition": {"test": "abs(log(datum.value)/LN10-round(log(datum.value)/LN10))<0.01", "value": -9}, "value": -5}, "labels": false, "title": null}},
     "color": {"field": "c", "type": "nominal", "scale": {"domain": ["b","r","k"], "range": ["#0000ff","#ff0000","#000000"]}, "legend": null},
     "strokeDash": {"field": "c", "type": "nominal", "scale": {"domain": ["b","r","k"], "range": [[7,3,1.5,3],[11,6],[1,0]]}, "legend": null},
     "strokeWidth": {"field": "c", "type": "ordinal", "scale": {"domain": ["b","r","k"], "range": [1.3,2,2.6]}, "legend": null}
    }},
   {"data": {"name": "p2s"}, "mark": {"type": "point", "opacity": 0},
    "encoding": {
     "x": {"field": "k", "type": "quantitative", "scale": {"domain": [0, 2], "nice": false, "zero": false}, "axis": {"orient": "top", "values": [0,0.1,0.2,0.3,0.4,0.5,0.6,0.7,0.8,0.9,1,1.1,1.2,1.3,1.4,1.5,1.6,1.7,1.8,1.9,2], "tickSize": {"condition": {"test": "abs(datum.value*2-round(datum.value*2))<0.01", "value": -9}, "value": -5}, "labels": false, "title": null}},
     "y": {"field": "v", "type": "quantitative", "scale": {"type": "log", "domain": [1e-5, 10], "nice": false}, "axis": {"orient": "right", "tickCount": 20, "tickSize": {"condition": {"test": "abs(log(datum.value)/LN10-round(log(datum.value)/LN10))<0.01", "value": -9}, "value": -5}, "labels": false, "title": null}}
    }},
   {"data": {"name": "t2s"}, "mark": {"type": "text", "align": "right", "baseline": "alphabetic", "dx": -160, "dy": 32, "fontSize": 24, "fontStyle": "italic"},
    "encoding": {"x": {"datum": 2, "type": "quantitative", "scale": {"domain": [0, 2]}, "axis": null}, "y": {"datum": 10, "type": "quantitative", "scale": {"type": "log", "domain": [1e-5, 10]}, "axis": null}, "text": {"value": "n"}}},
   {"data": {"name": "t2s"}, "mark": {"type": "text", "align": "right", "baseline": "alphabetic", "dx": -145, "dy": 38, "fontSize": 16, "fontStyle": "italic"},
    "encoding": {"x": {"datum": 2, "type": "quantitative", "scale": {"domain": [0, 2]}, "axis": null}, "y": {"datum": 10, "type": "quantitative", "scale": {"type": "log", "domain": [1e-5, 10]}, "axis": null}, "text": {"field": "sub"}}},
   {"data": {"name": "t2s"}, "mark": {"type": "text", "align": "right", "baseline": "alphabetic", "dx": -5, "dy": 32, "fontSize": 24},
    "encoding": {"x": {"datum": 2, "type": "quantitative", "scale": {"domain": [0, 2]}, "axis": null}, "y": {"datum": 10, "type": "quantitative", "scale": {"type": "log", "domain": [1e-5, 10]}, "axis": null}, "text": {"field": "main"}}},
   {"data": {"name": "t2s"}, "mark": {"type": "text", "align": "right", "baseline": "alphabetic", "dx": -7, "dy": 52, "fontSize": 18},
    "encoding": {"x": {"datum": 2, "type": "quantitative", "scale": {"domain": [0, 2]}, "axis": null}, "y": {"datum": 10, "type": "quantitative", "scale": {"type": "log", "domain": [1e-5, 10]}, "axis": null}, "text": {"field": "br"}}}
  ]
 },
 {
  "width": 326, "height": 300,
  "resolve": {"scale": {"x": "independent", "y": "independent"}, "axis": {"x": "independent", "y": "independent"}},
  "layer": [
   {"data": {"name": "p2p"}, "mark": {"type": "line", "clip": true, "interpolate": "monotone"},
    "encoding": {
     "x": {"field": "k", "type": "quantitative", "scale": {"domain": [0, 2], "nice": false, "zero": false}, "axis": {"orient": "bottom", "values": [0,0.1,0.2,0.3,0.4,0.5,0.6,0.7,0.8,0.9,1,1.1,1.2,1.3,1.4,1.5,1.6,1.7,1.8,1.9,2], "tickSize": {"condition": {"test": "abs(datum.value*2-round(datum.value*2))<0.01", "value": -9}, "value": -5}, "labelPadding": 20, "labelExpr": "abs(datum.value*2-round(datum.value*2))<0.01 && datum.value<1.9 ? format(datum.value,'~g') : ''", "title": "kᴅ/(2kꜰ)", "titleFontStyle": "italic", "titleFontSize": 27, "titlePadding": 1}},
     "y": {"field": "v", "type": "quantitative", "scale": {"type": "log", "domain": [0.001, 10], "nice": false}, "axis": {"orient": "left", "tickCount": 20, "tickSize": {"condition": {"test": "abs(log(datum.value)/LN10-round(log(datum.value)/LN10))<0.01", "value": -9}, "value": -5}, "labelPadding": 18, "labelExpr": "abs(log(datum.value)/LN10-round(log(datum.value)/LN10))>0.01 ? '' : round(log(datum.value)/LN10)==0 ? '10⁰' : round(log(datum.value)/LN10)==-1 ? '10⁻¹' : round(log(datum.value)/LN10)==-2 ? '10⁻²' : round(log(datum.value)/LN10)==-3 ? '10⁻³' : ''", "title": "𝒫ᵅ,ᵅ(kᴅ)/A [fm³]", "titleFontSize": 32, "titleX": -72, "titleY": 152}},
     "color": {"field": "c", "type": "nominal", "scale": {"domain": ["b","r","k"], "range": ["#0000ff","#ff0000","#000000"]}, "legend": null},
     "strokeDash": {"field": "c", "type": "nominal", "scale": {"domain": ["b","r","k"], "range": [[7,3,1.5,3],[11,6],[1,0]]}, "legend": null},
     "strokeWidth": {"field": "c", "type": "ordinal", "scale": {"domain": ["b","r","k"], "range": [1.3,2,2.6]}, "legend": null}
    }},
   {"data": {"name": "p2p"}, "mark": {"type": "point", "opacity": 0},
    "encoding": {
     "x": {"field": "k", "type": "quantitative", "scale": {"domain": [0, 2], "nice": false, "zero": false}, "axis": {"orient": "top", "values": [0,0.1,0.2,0.3,0.4,0.5,0.6,0.7,0.8,0.9,1,1.1,1.2,1.3,1.4,1.5,1.6,1.7,1.8,1.9,2], "tickSize": {"condition": {"test": "abs(datum.value*2-round(datum.value*2))<0.01", "value": -9}, "value": -5}, "labels": false, "title": null}},
     "y": {"field": "v", "type": "quantitative", "scale": {"type": "log", "domain": [0.001, 10], "nice": false}, "axis": {"orient": "right", "tickCount": 20, "tickSize": {"condition": {"test": "abs(log(datum.value)/LN10-round(log(datum.value)/LN10))<0.01", "value": -9}, "value": -5}, "labels": false, "title": null}}
    }},
   {"data": {"name": "t2p"}, "mark": {"type": "text", "align": "right", "baseline": "alphabetic", "dx": -160, "dy": 32, "fontSize": 24, "fontStyle": "italic"},
    "encoding": {"x": {"datum": 2, "type": "quantitative", "scale": {"domain": [0, 2]}, "axis": null}, "y": {"datum": 10, "type": "quantitative", "scale": {"type": "log", "domain": [0.001, 10]}, "axis": null}, "text": {"value": "n"}}},
   {"data": {"name": "t2p"}, "mark": {"type": "text", "align": "right", "baseline": "alphabetic", "dx": -145, "dy": 38, "fontSize": 16, "fontStyle": "italic"},
    "encoding": {"x": {"datum": 2, "type": "quantitative", "scale": {"domain": [0, 2]}, "axis": null}, "y": {"datum": 10, "type": "quantitative", "scale": {"type": "log", "domain": [0.001, 10]}, "axis": null}, "text": {"field": "sub"}}},
   {"data": {"name": "t2p"}, "mark": {"type": "text", "align": "right", "baseline": "alphabetic", "dx": -5, "dy": 32, "fontSize": 24},
    "encoding": {"x": {"datum": 2, "type": "quantitative", "scale": {"domain": [0, 2]}, "axis": null}, "y": {"datum": 10, "type": "quantitative", "scale": {"type": "log", "domain": [0.001, 10]}, "axis": null}, "text": {"field": "main"}}},
   {"data": {"name": "t2p"}, "mark": {"type": "text", "align": "right", "baseline": "alphabetic", "dx": -7, "dy": 52, "fontSize": 18},
    "encoding": {"x": {"datum": 2, "type": "quantitative", "scale": {"domain": [0, 2]}, "axis": null}, "y": {"datum": 10, "type": "quantitative", "scale": {"type": "log", "domain": [0.001, 10]}, "axis": null}, "text": {"field": "br"}}}
  ]
 },
 {
  "width": 326, "height": 300,
  "resolve": {"scale": {"x": "independent", "y": "independent"}, "axis": {"x": "independent", "y": "independent"}},
  "layer": [
   {"data": {"name": "p2d"}, "mark": {"type": "line", "clip": true, "interpolate": "monotone"},
    "encoding": {
     "x": {"field": "k", "type": "quantitative", "scale": {"domain": [0, 2], "nice": false, "zero": false}, "axis": {"orient": "bottom", "values": [0,0.1,0.2,0.3,0.4,0.5,0.6,0.7,0.8,0.9,1,1.1,1.2,1.3,1.4,1.5,1.6,1.7,1.8,1.9,2], "tickSize": {"condition": {"test": "abs(datum.value*2-round(datum.value*2))<0.01", "value": -9}, "value": -5}, "labelPadding": 20, "labelExpr": "abs(datum.value*2-round(datum.value*2))<0.01 ? format(datum.value,'~g') : ''", "title": "kᴅ/(2kꜰ)", "titleFontStyle": "italic", "titleFontSize": 27, "titlePadding": 1}},
     "y": {"field": "v", "type": "quantitative", "scale": {"type": "log", "domain": [0.001, 10], "nice": false}, "axis": {"orient": "left", "tickCount": 20, "tickSize": {"condition": {"test": "abs(log(datum.value)/LN10-round(log(datum.value)/LN10))<0.01", "value": -9}, "value": -5}, "labels": false, "title": null}},
     "color": {"field": "c", "type": "nominal", "scale": {"domain": ["b","r","k"], "range": ["#0000ff","#ff0000","#000000"]}, "legend": null},
     "strokeDash": {"field": "c", "type": "nominal", "scale": {"domain": ["b","r","k"], "range": [[7,3,1.5,3],[11,6],[1,0]]}, "legend": null},
     "strokeWidth": {"field": "c", "type": "ordinal", "scale": {"domain": ["b","r","k"], "range": [1.3,2,2.6]}, "legend": null}
    }},
   {"data": {"name": "p2d"}, "mark": {"type": "point", "opacity": 0},
    "encoding": {
     "x": {"field": "k", "type": "quantitative", "scale": {"domain": [0, 2], "nice": false, "zero": false}, "axis": {"orient": "top", "values": [0,0.1,0.2,0.3,0.4,0.5,0.6,0.7,0.8,0.9,1,1.1,1.2,1.3,1.4,1.5,1.6,1.7,1.8,1.9,2], "tickSize": {"condition": {"test": "abs(datum.value*2-round(datum.value*2))<0.01", "value": -9}, "value": -5}, "labels": false, "title": null}},
     "y": {"field": "v", "type": "quantitative", "scale": {"type": "log", "domain": [0.001, 10], "nice": false}, "axis": {"orient": "right", "tickCount": 20, "tickSize": {"condition": {"test": "abs(log(datum.value)/LN10-round(log(datum.value)/LN10))<0.01", "value": -9}, "value": -5}, "labels": false, "title": null}}
    }},
   {"data": {"name": "t2d"}, "mark": {"type": "text", "align": "right", "baseline": "alphabetic", "dx": -160, "dy": 32, "fontSize": 24, "fontStyle": "italic"},
    "encoding": {"x": {"datum": 2, "type": "quantitative", "scale": {"domain": [0, 2]}, "axis": null}, "y": {"datum": 10, "type": "quantitative", "scale": {"type": "log", "domain": [0.001, 10]}, "axis": null}, "text": {"value": "n"}}},
   {"data": {"name": "t2d"}, "mark": {"type": "text", "align": "right", "baseline": "alphabetic", "dx": -145, "dy": 38, "fontSize": 16, "fontStyle": "italic"},
    "encoding": {"x": {"datum": 2, "type": "quantitative", "scale": {"domain": [0, 2]}, "axis": null}, "y": {"datum": 10, "type": "quantitative", "scale": {"type": "log", "domain": [0.001, 10]}, "axis": null}, "text": {"field": "sub"}}},
   {"data": {"name": "t2d"}, "mark": {"type": "text", "align": "right", "baseline": "alphabetic", "dx": -5, "dy": 32, "fontSize": 24},
    "encoding": {"x": {"datum": 2, "type": "quantitative", "scale": {"domain": [0, 2]}, "axis": null}, "y": {"datum": 10, "type": "quantitative", "scale": {"type": "log", "domain": [0.001, 10]}, "axis": null}, "text": {"field": "main"}}},
   {"data": {"name": "t2d"}, "mark": {"type": "text", "align": "right", "baseline": "alphabetic", "dx": -7, "dy": 52, "fontSize": 18},
    "encoding": {"x": {"datum": 2, "type": "quantitative", "scale": {"domain": [0, 2]}, "axis": null}, "y": {"datum": 10, "type": "quantitative", "scale": {"type": "log", "domain": [0.001, 10]}, "axis": null}, "text": {"field": "br"}}}
  ]
 }
]
}
